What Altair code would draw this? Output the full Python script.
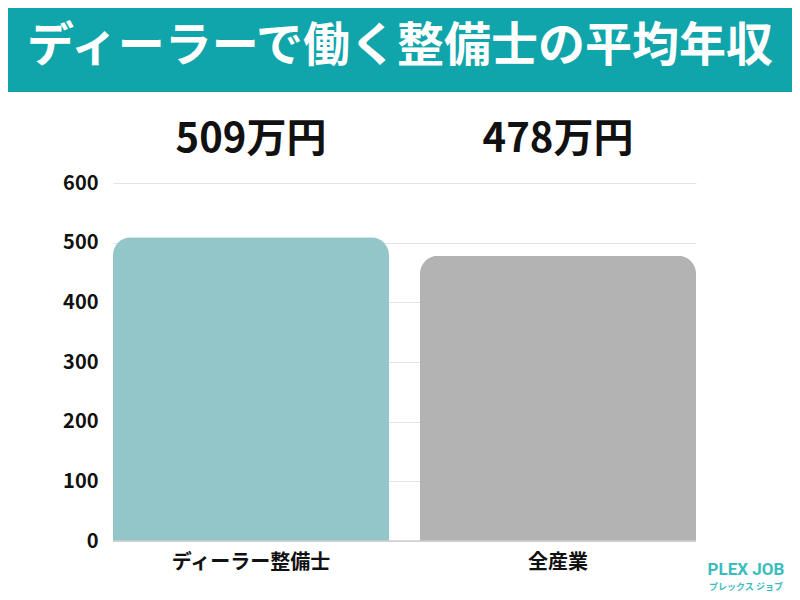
import altair as alt
import pandas as pd

categories = ["ディーラー整備士", "全産業"]
values = [509, 478]
value_labels = ["509万円", "478万円"]
bar_colors = ["#93c6c9", "#b3b3b3"]
title_text = "ディーラーで働く整備士の平均年収"
y_ticks = [0, 100, 200, 300, 400, 500, 600]

df = pd.DataFrame({"cat": categories, "val": values, "label": value_labels})

FONT = "Noto Sans CJK JP"
W, H = 583, 358
PL, PT = 105, 175
CW, CH = 784, 584

x_enc = alt.X("cat:N", sort=categories,
              scale=alt.Scale(paddingInner=0.101, paddingOuter=0),
              axis=alt.Axis(title=None, labelAngle=0, labelFont=FONT, labelFontSize=20,
                            labelFontWeight="bold", labelColor="#111111", labelPadding=11,
                            domain=False, ticks=False, grid=False))

bars = alt.Chart(df).mark_bar(cornerRadiusTopLeft=18, cornerRadiusTopRight=18).encode(
    x=x_enc,
    y=alt.Y("val:Q", scale=alt.Scale(domain=[0, 600]),
            axis=alt.Axis(title=None, values=y_ticks, labelFont=FONT, labelFontSize=20,
                          labelFontWeight="bold", labelColor="#111111", labelPadding=15,
                          domain=False, ticks=False, gridColor="#e3e3e3", gridWidth=1)),
    color=alt.Color("cat:N", sort=categories,
                    scale=alt.Scale(domain=categories, range=bar_colors), legend=None),
)

labels = alt.Chart(df).mark_text(font=FONT, fontSize=40, fontWeight="bold",
                                 color="#111111", baseline="middle").encode(
    x=alt.X("cat:N", sort=categories),
    y=alt.value(-43),
    text="label:N",
)

baseline_rule = alt.Chart(df).mark_rule(color="#cccccc").encode(
    x=alt.value(0), x2=alt.value(W), y=alt.value(H))

header = alt.Chart(pd.DataFrame({"t": [title_text]})).mark_rect(color="#0fa5ab").encode(
    x=alt.value(-PL), x2=alt.value(CW - PL), y=alt.value(-PT), y2=alt.value(-91))

title = alt.Chart(pd.DataFrame({"t": [title_text]})).mark_text(
    font=FONT, fontSize=47, fontWeight="bold", color="white", baseline="middle", align="center"
).encode(x=alt.value(400 - 8 - PL), y=alt.value(47 - 183), text="t:N")

logo1 = alt.Chart(pd.DataFrame({"t": ["PLEX JOB"]})).mark_text(
    font="Roboto", fontSize=17, fontWeight="bold", color="#3bbdbd", align="center", baseline="middle"
).encode(x=alt.value(746 - 8 - PL), y=alt.value(570 - 183), text="t:N")

logo2 = alt.Chart(pd.DataFrame({"t": ["プレックス ジョブ"]})).mark_text(
    font=FONT, fontSize=9, fontWeight="bold", color="#3bbdbd", align="center", baseline="middle"
).encode(x=alt.value(746 - 8 - PL), y=alt.value(587 - 183), text="t:N")

chart = alt.layer(header, title, bars, baseline_rule, labels, logo1, logo2).properties(
    width=W, height=H,
    background="white",
    padding={"left": PL, "top": PT, "right": CW - PL - W, "bottom": CH - PT - H},
    autosize=alt.AutoSizeParams(type="none"),
).configure_view(strokeWidth=0)

chart.save("out.html", embed_options={"renderer": "svg", "actions": False})
